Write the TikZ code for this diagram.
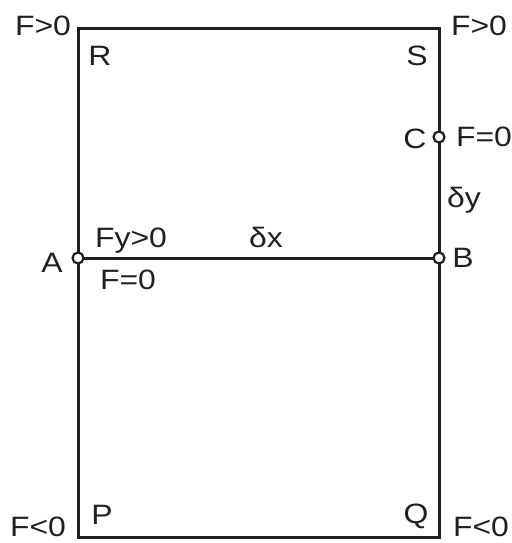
\documentclass[tikz,border=0pt]{standalone}
\usepackage{fontspec}
\setmainfont[FakeStretch=1.14]{Liberation Sans}
\definecolor{ink}{HTML}{231F20}
\begin{document}
\begin{tikzpicture}[x=1pt,y=-1pt,
  lbl/.style={anchor=base,inner sep=0pt,text=ink,font=\fontsize{28}{30}\selectfont},
  edge/.style={draw=ink,line width=3pt},
  pin/.style={circle,draw=ink,fill=white,line width=2.2pt,minimum size=11pt,inner sep=0pt}]
\useasboundingbox (0,0) rectangle (511,543);
\coordinate (R) at (78,29);
\coordinate (S) at (439,29);
\coordinate (P) at (78,537);
\coordinate (Q) at (439,537);
\coordinate (A) at (78,258);
\coordinate (B) at (439,258);
\coordinate (C) at (439,137);
\draw[edge,line join=miter] (R) -- (S) -- (Q) -- (P) -- cycle;
\draw[edge] (A) -- (B);
\node[pin] (nA) at (A) {};
\node[pin] (nB) at (B) {};
\node[pin] (nC) at (C) {};
\node[lbl] (t1) at (43,36) {F>0};
\node[lbl] (t2) at (479,36) {F>0};
\node[lbl] (tR) at (100,65) {R};
\node[lbl] (tS) at (417,65) {S};
\node[lbl] (tC) at (415,148) {C};
\node[lbl] (tF1) at (484,146) {F=0};
\node[lbl] (tdy) at (464,207) {δy};
\node[lbl] (tFy) at (131,247) {Fy>0};
\node[lbl] (tdx) at (266,247) {δx};
\node[lbl] (tA) at (52,272) {A};
\node[lbl] (tB) at (463,267) {B};
\node[lbl] (tF2) at (128,289) {F=0};
\node[lbl] (tP) at (102,524) {P};
\node[lbl] (tQ) at (416,523) {Q};
\node[lbl] (t3) at (38,536) {F<0};
\node[lbl] (t4) at (481,536) {F<0};
\end{tikzpicture}
\end{document}
